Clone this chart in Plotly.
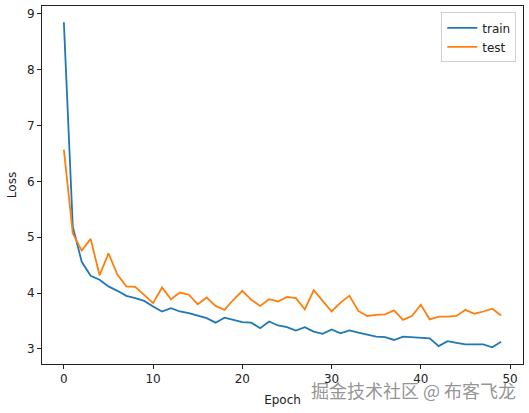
import plotly.graph_objects as go

epochs = list(range(50))
train_loss = [
    8.85, 5.19, 4.56, 4.31, 4.24, 4.12, 4.04, 3.95, 3.91, 3.86,
    3.76, 3.67, 3.73, 3.67, 3.64, 3.59, 3.55, 3.47, 3.56, 3.52,
    3.48, 3.47, 3.37, 3.49, 3.42, 3.39, 3.33, 3.39, 3.31, 3.27,
    3.35, 3.28, 3.33, 3.29, 3.25, 3.22, 3.21, 3.16, 3.22, 3.21,
    3.19, 3.19, 3.05, 3.14, 3.11, 3.08, 3.08, 3.08, 3.03, 3.13,
]
test_loss = [
    6.57, 5.07, 4.76, 4.97, 4.32, 4.71, 4.33, 4.12, 4.11, 3.97,
    3.82, 4.10, 3.89, 4.01, 3.97, 3.80, 3.92, 3.77, 3.70, 3.88,
    4.04, 3.88, 3.77, 3.89, 3.85, 3.93, 3.91, 3.71, 4.05, 3.86,
    3.67, 3.83, 3.95, 3.68, 3.59, 3.61, 3.62, 3.69, 3.52, 3.59,
    3.79, 3.53, 3.58, 3.58, 3.59, 3.70, 3.63, 3.67, 3.72, 3.60,
]

font = "DejaVu Sans"

fig = go.Figure()
fig.add_trace(go.Scatter(x=epochs, y=train_loss, mode="lines", name="train",
                         line=dict(color="#1f77b4", width=1.8)))
fig.add_trace(go.Scatter(x=epochs, y=test_loss, mode="lines", name="test",
                         line=dict(color="#ff7f0e", width=1.8)))

axis_style = dict(showline=True, linecolor="#222", linewidth=1, mirror=True,
                  showgrid=False, zeroline=False, ticks="outside", ticklen=4,
                  tickcolor="#222", automargin=False,
                  tickfont=dict(family=font, size=12, color="#222"))

fig.update_xaxes(range=[-2.45, 51.45], tickvals=[0, 10, 20, 30, 40, 50],
                 title=dict(text="Epoch", font=dict(family=font, size=12, color="#222"),
                            standoff=10),
                 **axis_style)
fig.update_yaxes(range=[2.73, 9.14], tickvals=[3, 4, 5, 6, 7, 8, 9],
                 title=dict(text="Loss", font=dict(family=font, size=12, color="#222"),
                            standoff=7),
                 **axis_style)

fig.update_layout(
    width=529, height=413,
    margin=dict(l=42, r=6, t=6, b=49),
    plot_bgcolor="white", paper_bgcolor="white",
    font=dict(family=font, size=12, color="#222"),
    legend=dict(x=0.986, y=0.982, xanchor="right", yanchor="top",
                bordercolor="#d0d0d0", borderwidth=1, bgcolor="rgba(255,255,255,0.8)",
                font=dict(family=font, size=12, color="#222"),
                itemwidth=30, tracegroupgap=0),
    showlegend=True,
)

# watermark
fig.add_annotation(text="掘金技术社区 @ 布客飞龙", xref="paper", yref="paper",
                   x=0.989, y=-0.073, xanchor="right", yanchor="middle", showarrow=False,
                   font=dict(family="Noto Sans CJK SC", size=18, color="rgba(120,120,120,0.8)"))

# page body has a default 8px margin, drop it so the figure sits at the corner
fig.write_html("out.html", config={"displayModeBar": False},
               post_script="document.body.style.margin='0';document.body.style.overflow='hidden';")
